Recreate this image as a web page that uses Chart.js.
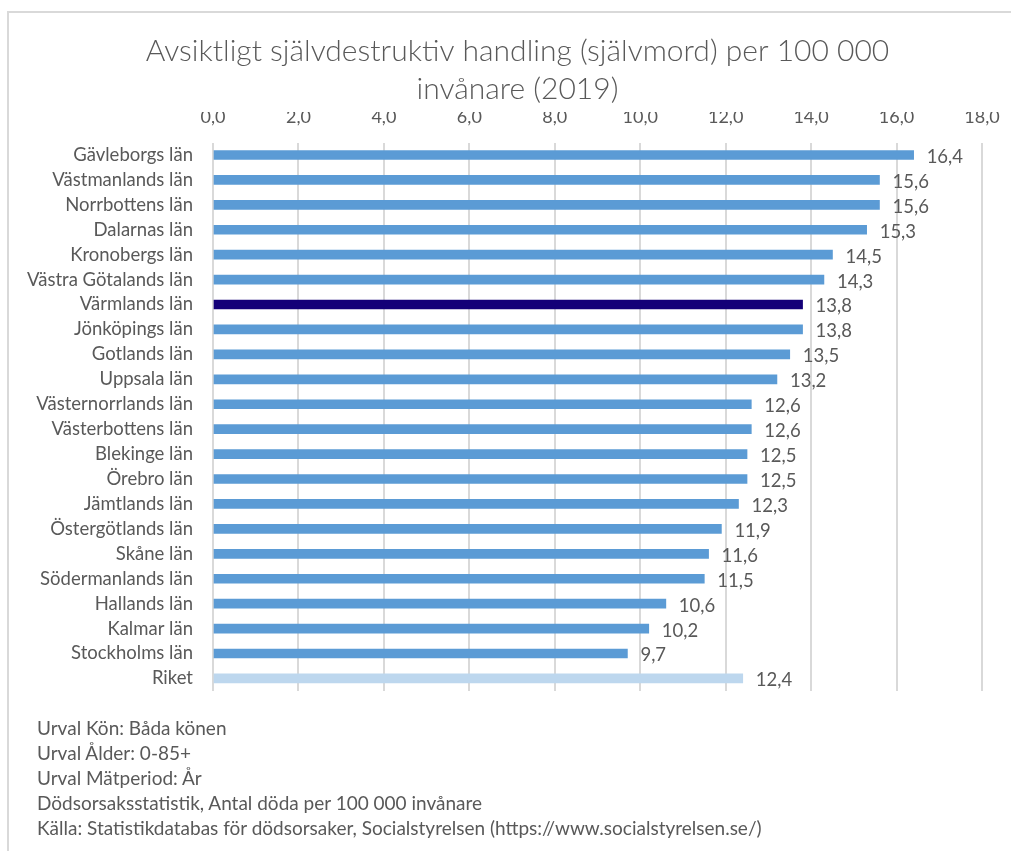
<!DOCTYPE html>
<html>
<head>
<meta charset="utf-8">
<script src="https://cdn.jsdelivr.net/npm/chart.js@4/dist/chart.umd.min.js"></script>
<style>
  body { margin: 0; background: #fff; }
  #wrap { position: relative; width: 1011px; height: 851px; overflow: hidden; font-family: Lato, "Open Sans", sans-serif; }
  #frame { position: absolute; left: 7px; top: 11px; width: 1100px; height: 900px; border-left: 2px solid #d9d9d9; border-top: 2px solid #d9d9d9; }
  #chart-box { position: absolute; left: 0; top: 0; width: 1011px; height: 722px; }
  #notes { position: absolute; left: 37px; top: 715px; color: #595959; font-size: 19px; line-height: 25px; }
</style>
</head>
<body>
<div id="wrap">
  <div id="frame"></div>
  <div id="chart-box"><canvas id="bar-canvas" width="1011" height="722"></canvas></div>
  <div id="notes">
    <div>Urval Kön: Båda könen</div>
    <div>Urval Ålder: 0-85+</div>
    <div>Urval Mätperiod: År</div>
    <div>Dödsorsaksstatistik, Antal döda per 100 000 invånare</div>
    <div>Källa: Statistikdatabas för dödsorsaker, Socialstyrelsen (https://www.socialstyrelsen.se/)</div>
  </div>
</div>
<script>
const titleLines = ['Avsiktligt självdestruktiv handling (självmord) per 100 000', 'invånare (2019)'];

const regions = [
  'Gävleborgs län', 'Västmanlands län', 'Norrbottens län', 'Dalarnas län',
  'Kronobergs län', 'Västra Götalands län', 'Värmlands län', 'Jönköpings län',
  'Gotlands län', 'Uppsala län', 'Västernorrlands län', 'Västerbottens län',
  'Blekinge län', 'Örebro län', 'Jämtlands län', 'Östergötlands län',
  'Skåne län', 'Södermanlands län', 'Hallands län', 'Kalmar län',
  'Stockholms län', 'Riket'
];

const rates = [
  16.4, 15.6, 15.6, 15.3, 14.5, 14.3, 13.8, 13.8, 13.5, 13.2, 12.6,
  12.6, 12.5, 12.5, 12.3, 11.9, 11.6, 11.5, 10.6, 10.2, 9.7, 12.4
];

const xTicks = [0, 2, 4, 6, 8, 10, 12, 14, 16, 18];

const highlightRegion = 'Värmlands län';
const totalRegion = 'Riket';

const textColor = '#595959';
const fontFamily = 'Lato, "Open Sans", sans-serif';

function fmt(v) {
  return v.toFixed(1).replace('.', ',');
}

const barColors = regions.map(r => {
  if (r === highlightRegion) return '#140078';
  if (r === totalRegion) return '#bdd7ee';
  return '#5b9bd5';
});

// title is centred on the whole frame, not on the plot, so draw it here
const frameTitle = {
  id: 'frameTitle',
  afterDraw(chart) {
    const ctx = chart.ctx;
    ctx.save();
    ctx.font = '300 30px ' + fontFamily;
    ctx.fillStyle = textColor;
    ctx.textAlign = 'center';
    ctx.textBaseline = 'middle';
    titleLines.forEach((line, i) => {
      ctx.fillText(line, 517.5, 51 + i * 38);
    });
    ctx.restore();
  }
};

// value labels right of each bar
const valueLabels = {
  id: 'valueLabels',
  afterDatasetsDraw(chart) {
    const ctx = chart.ctx;
    const meta = chart.getDatasetMeta(0);
    ctx.save();
    ctx.font = '18.5px ' + fontFamily;
    ctx.fillStyle = textColor;
    ctx.textAlign = 'left';
    ctx.textBaseline = 'middle';
    meta.data.forEach((bar, i) => {
      ctx.fillText(fmt(rates[i]), bar.x + 13, bar.y + 2);
    });
    ctx.restore();
  }
};

new Chart('bar-canvas', {
  type: 'bar',
  data: {
    labels: regions,
    datasets: [{
      data: rates,
      backgroundColor: barColors,
      barThickness: 9
    }]
  },
  options: {
    indexAxis: 'y',
    responsive: false,
    animation: false,
    layout: { padding: { left: 0, right: 29, top: 112, bottom: 9.5 } },
    plugins: {
      legend: { display: false },
      tooltip: { enabled: false },
      title: { display: false }
    },
    scales: {
      x: {
        position: 'top',
        min: 0,
        max: 18,
        afterBuildTicks(scale) {
          scale.ticks = xTicks.map(v => ({ value: v }));
        },
        afterFit(scale) {
          scale.height = 30.5;
          scale.paddingLeft = 0;
          scale.paddingRight = 0;
        },
        grid: { color: '#d9d9d9', lineWidth: 2, drawTicks: false },
        border: { display: false },
        ticks: {
          color: textColor,
          padding: 15,
          font: { family: fontFamily, size: 18 },
          callback: v => fmt(v)
        }
      },
      y: {
        afterFit(scale) { scale.width = 213; },
        grid: { display: false, drawTicks: false },
        border: { display: false },
        ticks: {
          color: textColor,
          padding: 20,
          autoSkip: false,
          font: { family: fontFamily, size: 18.5 }
        }
      }
    }
  },
  plugins: [frameTitle, valueLabels]
});
</script>
</body>
</html>
